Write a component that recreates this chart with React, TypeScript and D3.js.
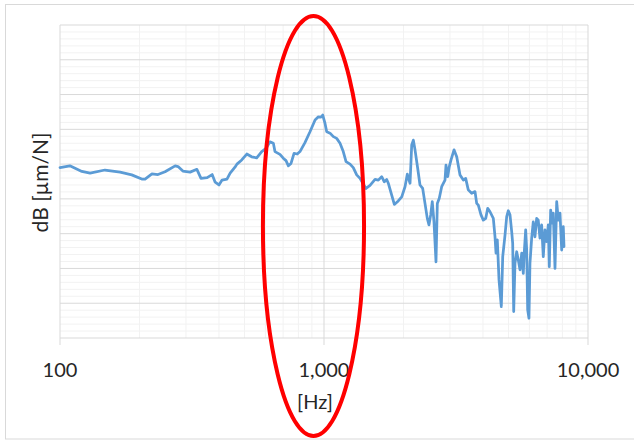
import React from "react";
import * as d3 from "d3";

const freqHz: number[] = [
  100, 109, 121, 130, 148, 169, 187, 204, 210, 223, 235, 250, 273, 280, 292, 311, 330, 342, 361, 377,
  387, 400, 411, 429, 441, 460, 468, 488, 510, 532, 556, 581, 603, 624, 643, 652, 681, 701, 718, 733,
  750, 770, 792, 811, 847, 885, 925, 952, 974, 989, 1009, 1024, 1054, 1085, 1117, 1150, 1183, 1212, 1255, 1291,
  1330, 1369, 1393, 1442, 1494, 1561, 1606, 1654, 1692, 1728, 1752, 1805, 1847, 1911, 1970, 2027, 2068, 2118, 2149, 2180,
  2212, 2264, 2310, 2365, 2413, 2462, 2498, 2536, 2571, 2610, 2656, 2687, 2733, 2791, 2873, 2898, 2942, 2983, 3028, 3108,
  3182, 3275, 3371, 3441, 3520, 3626, 3733, 3788, 3842, 3933, 4013, 4098, 4170, 4255, 4379, 4444, 4483, 4534, 4602, 4695,
  4753, 4849, 4921, 4991, 5065, 5140, 5185, 5231, 5290, 5369, 5445, 5526, 5609, 5687, 5737, 5807, 5858, 5909, 5976, 6028,
  6118, 6204, 6296, 6391, 6480, 6577, 6675, 6770, 6870, 6974, 7072, 7134, 7221, 7323, 7388, 7499, 7610, 7718, 7832, 7950,
  8061, 8111,
];

const compliance: number[] = [
  -11.0, -10.5, -12.1, -12.6, -11.7, -12.3, -13.1, -14.3, -14.3, -12.8, -13.0, -12.2, -10.5, -10.7, -12.0, -12.3, -11.5, -14.1, -13.9, -13.0,
  -15.2, -16.0, -14.6, -14.3, -12.6, -10.9, -10.0, -8.8, -7.1, -7.9, -8.2, -6.4, -5.5, -3.6, -4.0, -6.4, -7.2, -8.3, -9.0, -10.5,
  -9.8, -6.9, -7.1, -6.4, -3.8, -0.7, 2.7, 3.6, 3.5, 4.1, 1.7, -0.7, -1.1, -2.1, -2.6, -4.0, -6.4, -9.3, -10.0, -11.0,
  -13.1, -14.1, -15.1, -17.0, -16.1, -14.4, -14.6, -13.6, -15.1, -14.4, -15.5, -18.9, -21.6, -20.6, -19.4, -16.5, -12.9, -15.5, -4.5, -3.1,
  -5.9, -11.2, -16.0, -17.0, -21.3, -25.6, -27.5, -24.6, -20.8, -26.6, -38.1, -21.3, -19.8, -16.5, -14.6, -10.3, -13.6, -10.7, -8.8, -5.9,
  -7.9, -13.1, -14.6, -14.1, -17.4, -18.4, -17.9, -21.3, -21.8, -24.6, -26.1, -25.6, -22.7, -23.7, -25.6, -30.9, -35.6, -31.8, -43.3, -51.0,
  -36.6, -30.4, -25.1, -23.4, -24.6, -29.4, -32.8, -52.4, -38.5, -35.2, -37.6, -40.4, -35.6, -41.4, -35.2, -28.9, -34.7, -51.9, -54.3, -38.5,
  -31.3, -26.6, -30.9, -25.6, -26.1, -31.3, -27.5, -36.6, -28.9, -32.3, -27.5, -39.5, -23.2, -27.0, -24.1, -40.0, -20.8, -26.1, -24.1, -34.7,
  -28.0, -33.7,
];

const xTickValues: number[] = [100, 1000, 10000];
const xTickLabels: string[] = ["100", "1,000", "10,000"];
const yDomain: number[] = [-60, 30];
const yMajorStep = 10;
const yMinorStep = 2;
const xTitle = "[Hz]";
const yTitle = "dB [µm/N]";
const highlightHz: number[] = [587, 1418];

const W = 634;
const H = 441;
const M = { left: 60, right: 588, top: 25, bottom: 338 };
const FONT = "Lato, 'Open Sans', sans-serif";

export default function App() {
  const x = d3.scaleLog().domain([100, 10000]).range([M.left, M.right]);
  const y = d3.scaleLinear().domain(yDomain).range([M.bottom, M.top]);

  const minorX: number[] = [];
  for (let dec = 100; dec < 10000; dec *= 10) {
    for (let k = 2; k <= 9; k++) minorX.push(dec * k);
  }
  const majorY = d3.range(yDomain[0], yDomain[1] + 0.001, yMajorStep);
  const minorY = d3
    .range(yDomain[0], yDomain[1] + 0.001, yMinorStep)
    .filter((v) => Math.abs(v % yMajorStep) > 0.001);

  const data = freqHz.map((f, i) => [f, compliance[i]] as [number, number]);
  const line = d3
    .line<[number, number]>()
    .x((d) => x(d[0]))
    .y((d) => y(d[1]));

  const ex0 = x(highlightHz[0]);
  const ex1 = x(highlightHz[1]);

  return (
    <svg
      width={W}
      height={H}
      style={{ position: "absolute", left: 0, top: 0, background: "#fff" }}
    >
      <rect x={5.5} y={4.5} width={640} height={434.5} fill="#fff" stroke="#D9D9D9" strokeWidth={1} />
      {minorY.map((v) => (
        <line key={"my" + v} x1={M.left} x2={M.right} y1={y(v)} y2={y(v)} stroke="#F2F2F2" strokeWidth={1} />
      ))}
      {minorX.map((v) => (
        <line key={"mx" + v} x1={x(v)} x2={x(v)} y1={M.top} y2={M.bottom} stroke="#F2F2F2" strokeWidth={1} />
      ))}
      {majorY.map((v) => (
        <line key={"My" + v} x1={M.left} x2={M.right} y1={y(v)} y2={y(v)} stroke="#D9D9D9" strokeWidth={1} />
      ))}
      {xTickValues.map((v) => (
        <line key={"Mx" + v} x1={x(v)} x2={x(v)} y1={M.top} y2={M.bottom + 7} stroke="#D9D9D9" strokeWidth={1} />
      ))}
      <path
        d={line(data) || ""}
        fill="none"
        stroke="#5B9BD5"
        strokeWidth={2.75}
        strokeLinejoin="round"
        strokeLinecap="round"
      />
      {xTickValues.map((v, i) => (
        <text
          key={"t" + v}
          x={x(v)}
          y={377}
          textAnchor="middle"
          fontFamily={FONT}
          fontSize={20}
          fill="#262626"
        >
          {xTickLabels[i]}
        </text>
      ))}
      <text x={315} y={409} textAnchor="middle" fontFamily={FONT} fontSize={20} fill="#262626">
        {xTitle}
      </text>
      <text
        transform={`translate(48,182.5) rotate(-90)`}
        textAnchor="middle"
        fontFamily={FONT}
        fontSize={21}
        fill="#262626"
      >
        {yTitle}
      </text>
      <ellipse
        cx={(ex0 + ex1) / 2}
        cy={226}
        rx={(ex1 - ex0) / 2}
        ry={210}
        fill="none"
        stroke="#FF0000"
        strokeWidth={4}
      />
    </svg>
  );
}
